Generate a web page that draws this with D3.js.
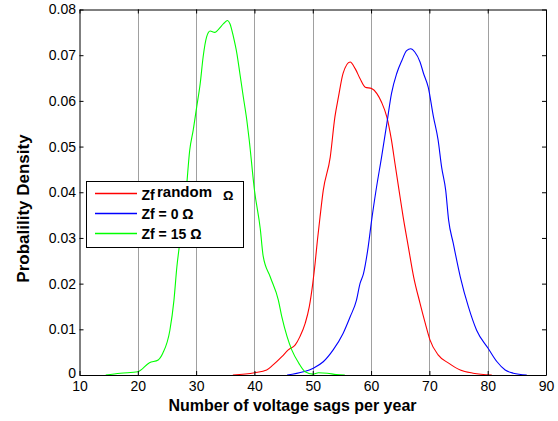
<!DOCTYPE html>
<html>
<head>
<meta charset="utf-8">
<script src="https://cdn.jsdelivr.net/npm/d3@7"></script>
<style>
  body { margin: 0; background: #fff; }
  svg { display: block; font-family: Arial, 'Liberation Sans', sans-serif; }
</style>
</head>
<body>
<svg id="chart" width="558" height="421"></svg>
<script>
'use strict';

// values: [sags per year, density]
const greenPts = [
  [14.5, 0], [17, 0.0004], [20, 0.0007], [22, 0.0027], [23.5, 0.0033], [24.3, 0.0048],
  [25.5, 0.0098], [26.2, 0.0164], [26.7, 0.0237], [27.1, 0.028], [28.3, 0.0404],
  [28.9, 0.0492], [29.5, 0.0536], [30.1, 0.0587], [30.7, 0.0638], [31.2, 0.0696],
  [31.8, 0.074], [32.4, 0.0753], [33.2, 0.075], [33.8, 0.0756], [34.7, 0.0769],
  [35.4, 0.0776], [35.8, 0.0769], [36.4, 0.074], [37, 0.0703], [37.5, 0.066],
  [38.1, 0.0608], [38.7, 0.0557], [39.1, 0.0515], [40, 0.0405], [41, 0.032],
  [41.5, 0.026], [42.7, 0.0215], [44.1, 0.0164], [44.7, 0.0127], [45.6, 0.0084],
  [46.4, 0.0055], [47.6, 0.0026], [48.7, 0.0007], [50, 0.0002], [51, 0.0005],
  [52.5, 0.0004], [54, 0.0001], [55.5, 0]
];
const redPts = [
  [36.3, 0], [40, 0.0005], [42.1, 0.0011], [43.2, 0.0022], [44.7, 0.004], [45.8, 0.0055],
  [47, 0.0066], [47.8, 0.0084], [48.7, 0.0113], [49.4, 0.0149], [50, 0.02],
  [50.4, 0.0244], [50.8, 0.0295], [51.25, 0.0346], [51.8, 0.0404], [53, 0.0477],
  [53.8, 0.0565], [54.4, 0.0608], [55.2, 0.066], [56.4, 0.0685], [57.3, 0.067],
  [58.1, 0.0649], [59, 0.063], [60.1, 0.0627], [61, 0.0616], [61.8, 0.0597],
  [62.7, 0.0565], [63.5, 0.0514], [64.1, 0.0463], [64.8, 0.0404], [65.5, 0.0346],
  [66.4, 0.028], [67.3, 0.0215], [68.4, 0.0157], [69.3, 0.0113], [70.1, 0.0077],
  [71.5, 0.0044], [73.3, 0.0026], [75.3, 0.0011], [77.5, 0.0004], [80.7, 0]
];
const bluePts = [
  [45.6, 0], [48.4, 0.0007], [50.1, 0.0015], [51.8, 0.0029], [53.5, 0.0055],
  [55.2, 0.0091], [56.4, 0.0127], [57.5, 0.0164], [58.1, 0.02], [58.7, 0.0222],
  [59.5, 0.028], [60.1, 0.0339], [60.8, 0.04], [61.8, 0.0477], [62.7, 0.055],
  [63.5, 0.0616], [64.4, 0.066], [65.3, 0.0689], [66.1, 0.071], [66.8, 0.0714],
  [67.5, 0.0707], [68.4, 0.0685], [69, 0.066], [69.8, 0.063], [70.7, 0.0565],
  [71.5, 0.0514], [72.1, 0.0455], [72.8, 0.0404], [73.3, 0.0339], [74.1, 0.0288],
  [75.3, 0.0215], [76.7, 0.0149], [78.1, 0.0098], [80.1, 0.0058], [81.6, 0.0029],
  [83, 0.0011], [84.4, 0.0004], [86.7, 0]
];

const xTicks = [10, 20, 30, 40, 50, 60, 70, 80, 90];
const yTicks = [0, 0.01, 0.02, 0.03, 0.04, 0.05, 0.06, 0.07, 0.08];
const gridAt = [20, 30, 40, 50, 60, 70, 80];

const series = [
  { name: 'random', pts: redPts, color: '#ff0000' },
  { name: '0', pts: bluePts, color: '#0000ff' },
  { name: '15', pts: greenPts, color: '#00ff00' }
];

const pLeft = 79.5, pRight = 546, pTop = 9.5, pBottom = 375;

const svg = d3.select('#chart');

const x = d3.scaleLinear().domain([10, 90]).range([pLeft, pRight]);
const y = d3.scaleLinear().domain([0, 0.08]).range([pBottom, pTop]);

// vertical grid (dotted, MATLAB style)
svg.append('g')
  .selectAll('line')
  .data(gridAt)
  .enter().append('line')
  .attr('x1', d => Math.round(x(d)) + 0.5)
  .attr('x2', d => Math.round(x(d)) + 0.5)
  .attr('y1', pTop)
  .attr('y2', pBottom)
  .attr('stroke', '#404040')
  .attr('stroke-dasharray', '1,1');

// curves
const line = d3.line()
  .x(d => x(d[0]))
  .y(d => y(d[1]))
  .curve(d3.curveMonotoneX);

svg.append('g')
  .selectAll('path')
  .data(series)
  .enter().append('path')
  .attr('d', d => line(d.pts))
  .attr('fill', 'none')
  .attr('stroke', d => d.color)
  .attr('stroke-width', 1.1);

// axes (ticks point inward, box all round)
const fmtY = d => d === 0 ? '0' : d3.format('.2f')(d);

const gx = svg.append('g')
  .attr('transform', `translate(0,${pBottom})`)
  .call(d3.axisBottom(x).tickValues(xTicks).tickSize(-4).tickPadding(6).tickSizeOuter(0));
const gxTop = svg.append('g')
  .attr('transform', `translate(0,${pTop})`)
  .call(d3.axisTop(x).tickValues(xTicks).tickSize(-4).tickFormat('').tickSizeOuter(0));
const gy = svg.append('g')
  .attr('transform', `translate(${pLeft},0)`)
  .call(d3.axisLeft(y).tickValues(yTicks).tickSize(-4).tickPadding(3.5).tickFormat(fmtY).tickSizeOuter(0));
const gyRight = svg.append('g')
  .attr('transform', `translate(${pRight},0)`)
  .call(d3.axisRight(y).tickValues(yTicks).tickSize(-4).tickFormat('').tickSizeOuter(0));

[gx, gxTop, gy, gyRight].forEach(g => {
  g.selectAll('text')
    .attr('fill', '#000')
    .style('font-size', '14px')
    .style('font-family', 'Arial, "Liberation Sans", sans-serif');
  g.select('.domain').attr('stroke', '#000');
});
gy.selectAll('.tick text').filter(d => d === 0).attr('dy', '0.2em');

// axis titles
svg.append('text')
  .attr('x', 292.5)
  .attr('y', 411)
  .attr('text-anchor', 'middle')
  .style('font-size', '16px')
  .style('font-weight', 'bold')
  .text('Number of voltage sags per year');

svg.append('text')
  .attr('transform', 'translate(29,208.5) rotate(-90)')
  .attr('text-anchor', 'middle')
  .style('font-size', '17px')
  .style('font-weight', 'bold')
  .text('Probalility Density');

// legend
const lg = svg.append('g');
lg.append('rect')
  .attr('x', 86.5)
  .attr('y', 181.5)
  .attr('width', 157)
  .attr('height', 66)
  .attr('fill', '#fff')
  .attr('stroke', '#000');

const rowY = [193.5, 213.5, 233.5];
lg.selectAll('line.key')
  .data(series)
  .enter().append('line')
  .attr('class', 'key')
  .attr('x1', 95).attr('x2', 137)
  .attr('y1', (d, i) => rowY[i]).attr('y2', (d, i) => rowY[i])
  .attr('stroke', d => d.color)
  .attr('stroke-width', 1.4);

const lt = lg.append('g')
  .style('font-size', '14px')
  .style('font-weight', 'bold');
lt.append('text').attr('x', 141.5).attr('y', rowY[0] + 6).text('Zf');
lt.append('text').attr('x', 157).attr('y', rowY[0] + 3).style('font-size', '15px').text('random');
lt.append('text').attr('x', 223).attr('y', rowY[0] + 6).style('font-size', '13px').text('Ω');
lt.append('text').attr('x', 141.5).attr('y', rowY[1] + 5).text('Zf = 0 Ω');
lt.append('text').attr('x', 141.5).attr('y', rowY[2] + 5).text('Zf = 15 Ω');
</script>
</body>
</html>
